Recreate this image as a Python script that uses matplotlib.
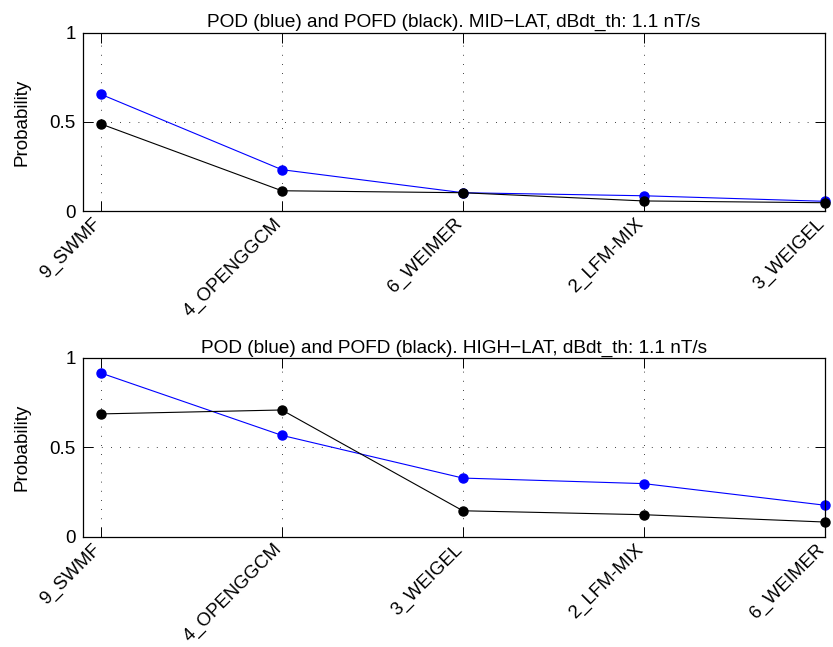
import matplotlib
matplotlib.use('Agg')
import matplotlib.pyplot as plt

plt.rcParams['font.family'] = ['Liberation Sans', 'DejaVu Sans']
plt.rcParams['font.size'] = 13.6

# mid-latitude stations
mid_models = ['9_SWMF', '4_OPENGGCM', '6_WEIMER', '2_LFM-MIX', '3_WEIGEL']
mid_pod = [0.655, 0.233, 0.104, 0.087, 0.056]
mid_pofd = [0.489, 0.115, 0.104, 0.058, 0.048]

# high-latitude stations
high_models = ['9_SWMF', '4_OPENGGCM', '3_WEIGEL', '2_LFM-MIX', '6_WEIMER']
high_pod = [0.916, 0.567, 0.328, 0.297, 0.176]
high_pofd = [0.687, 0.709, 0.145, 0.123, 0.082]

threshold = 1.1


def draw_panel(ax, models, pod, pofd, region):
    x = list(range(1, len(models) + 1))
    ax.plot(x, pod, '-', color='blue', lw=0.8, marker='o', ms=6.5,
            mfc='blue', mec='blue', clip_on=False, zorder=3)
    ax.plot(x, pofd, '-', color='black', lw=0.8, marker='o', ms=6.5,
            mfc='black', mec='black', clip_on=False, zorder=3)
    ax.set_xlim(0.9, 5.0)
    ax.set_ylim(0, 1)
    ax.set_xticks(x)
    ax.set_xticklabels(models, rotation=45, ha='right', va='baseline',
                       rotation_mode='anchor', fontsize=13.4)
    ax.set_yticks([0, 0.5, 1])
    ax.set_yticklabels(['0', '0.5', '1'])
    ax.set_ylabel('Probability', labelpad=14)
    ax.set_title('POD (blue) and POFD (black). %s, dBdt_th: %.1f nT/s'
                 % (region, threshold), fontsize=13.7, pad=4)
    ax.grid(True, linestyle=(0, (1, 10)), color='black', lw=0.6)
    ax.tick_params(axis='both', direction='in', length=7, width=0.7,
                   top=True, right=True)
    ax.tick_params(axis='x', pad=9.5)
    ax.tick_params(axis='y', pad=5)
    for s in ax.spines.values():
        s.set_linewidth(0.9)
        s.set_zorder(4)


fig = plt.figure(figsize=(8.33, 6.47), dpi=100)
ax1 = fig.add_axes([0.0993, 0.6734, 0.8910, 0.2762])
ax2 = fig.add_axes([0.0993, 0.1705, 0.8910, 0.2762])

draw_panel(ax1, mid_models, mid_pod, mid_pofd, 'MID\u2212LAT')
draw_panel(ax2, high_models, high_pod, high_pofd, 'HIGH\u2212LAT')

fig.savefig('out.png', dpi=100)
